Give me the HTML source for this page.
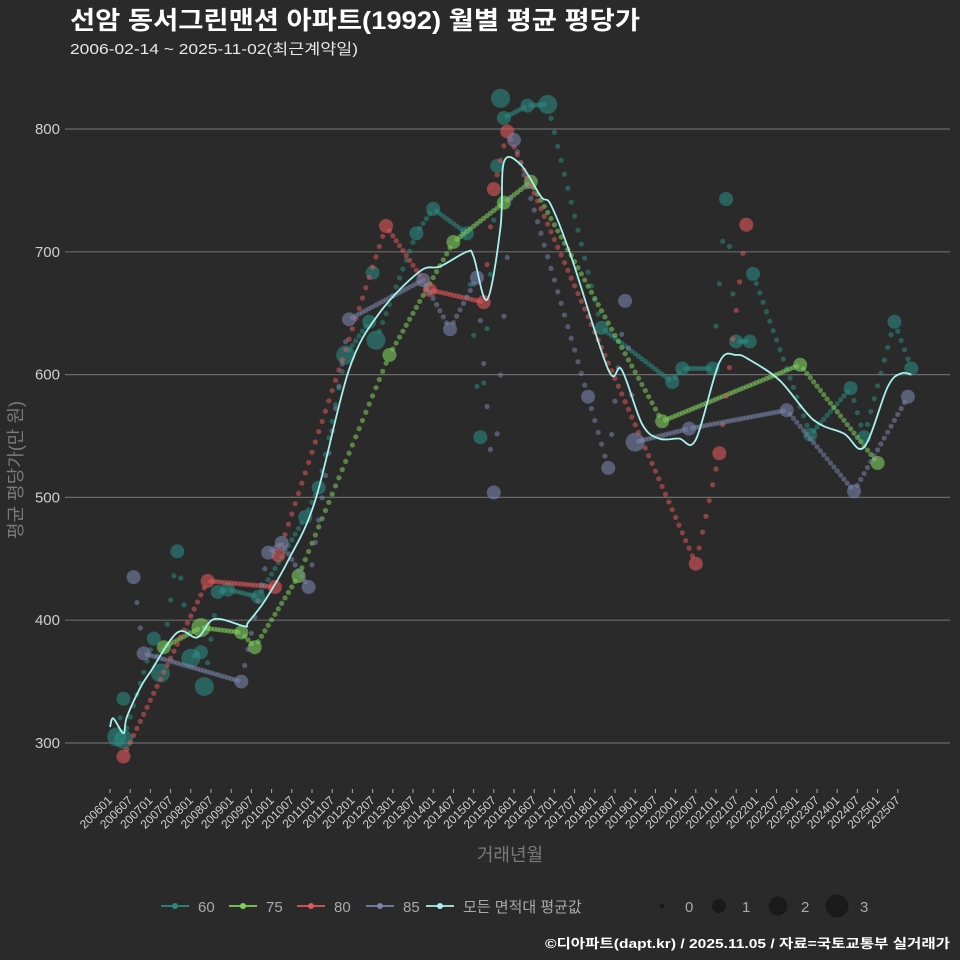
<!DOCTYPE html>
<html><head><meta charset="utf-8">
<style>
html,body{margin:0;padding:0;background:#2b2a2b;}
svg{display:block;font-family:"Liberation Sans","Noto Sans CJK KR",sans-serif;}
</style></head>
<body>
<svg id="c" width="960" height="960" viewBox="0 0 960 960" xmlns="http://www.w3.org/2000/svg">
<rect width="960" height="960" fill="#2b2a2b"/>
<text x="70" y="29" fill="#ffffff" font-size="25" font-weight="bold" textLength="570" lengthAdjust="spacingAndGlyphs">선암 동서그린맨션 아파트(1992) 월별 평균 평당가</text>
<text x="70" y="54" fill="#e8e8e8" font-size="15" textLength="288" lengthAdjust="spacingAndGlyphs">2006-02-14 ~ 2025-11-02(최근계약일)</text>
<g id="grid"></g>
<g id="yticks"></g>
<g id="xticks"></g>
<g id="marks"></g>
<text transform="translate(22,470) rotate(-90)" text-anchor="middle" fill="#7a7a7a" font-size="18">평균 평당가(만 원)</text>
<text x="510" y="861" text-anchor="middle" fill="#7a7a7a" font-size="18">거래년월</text>
<g id="legend"></g>
<text x="950" y="948" text-anchor="end" fill="#ffffff" font-size="13" font-weight="bold" textLength="405" lengthAdjust="spacingAndGlyphs">©디아파트(dapt.kr) / 2025.11.05 / 자료=국토교통부 실거래가</text>
</svg>
<script>
// ---- data (months since 2006-01) ----
const yTicks = [300, 400, 500, 600, 700, 800];
const xTickLabels = ["200601","200607","200701","200707","200801","200807","200901","200907","201001","201007","201101","201107","201201","201207","201301","201307","201401","201407","201501","201507","201601","201607","201701","201707","201801","201807","201901","201907","202001","202007","202101","202107","202201","202207","202301","202307","202401","202407","202501","202507"];
const seriesNames = ["60","75","80","85"];
const seriesColors = ["#2a8a80","#7fd05c","#e05858","#7884a8"];
const s60Months = [2,4,4,13,15,20,24,27,28,32,35,44,58,62,70,77,78,79,91,96,106,110,115,116,117,124,130,146,167,170,179,183,186,190,191,208,220,224,233,238];
const s60Values = [305,336,303,385,357,456,369,374,346,423,425,419,484,508,616,643,683,628,715,735,715,549,770,825,809,819,820,638,594,605,605,743,627,627,682,551,589,549,643,605];
const s60Sizes  = [2,1,2,1,2,1,2,1,2,1,1,1,1,1,2,1,1,2,1,1,1,1,1,2,1,1,2,1,1,1,1,1,1,1,1,1,1,1,1,1];
const s75Months = [16,27,39,43,56,83,102,117,125,164,205,228];
const s75Values = [378,394,390,378,436,616,708,740,757,562,608,528];
const s75Sizes  = [1,2,1,1,1,1,1,1,1,1,1,1];
const s80Months = [4,29,49,50,82,95,111,114,118,174,181,189];
const s80Values = [289,432,427,453,721,669,659,751,798,446,536,722];
const s80Sizes  = [1,1,1,1,1,1,1,1,1,1,1,1];
const s85Months = [7,10,39,47,51,59,71,93,101,109,114,120,142,148,153,156,172,201,221,237];
const s85Values = [435,373,350,455,463,427,645,677,637,679,504,791,582,524,660,545,556,571,505,582];
const s85Sizes  = [1,1,1,1,1,1,1,1,1,1,1,1,1,1,1,2,1,1,1,1];
const avgMonths = [0,1,4,5,9,12,20,26,31,40,41,46,53,61,71,80,92,98,106,108,112,116,117,122,128,131,137,148,152,158,163,169,174,181,186,190,199,209,218,224,231,235,238];
const avgValues = [313,320,308,321,345,358,390,386,401,395,398,416,449,498,604,650,684,688,700,696,661,720,773,771,745,738,696,604,604,560,548,548,547,610,616,612,595,563,552,541,590,601,600];

// ---- axes ----
const X0 = 110, XM = 20.2/6;
function xs(m){ return X0 + m*XM; }
function ys(v){ return 129 + (800 - v)*1.228; }
const NS = "http://www.w3.org/2000/svg";
function mk(tag, attrs, parent){ const e=document.createElementNS(NS,tag); for(const k in attrs) e.setAttribute(k,attrs[k]); parent.appendChild(e); return e; }
const grid=document.getElementById('grid'), yt=document.getElementById('yticks'), xt=document.getElementById('xticks'), marks=document.getElementById('marks'), lg=document.getElementById('legend');

yTicks.forEach(v=>{
  const l=mk('line',{x1:65,x2:950,y1:ys(v),y2:ys(v),stroke:'#6a6a6a','stroke-width':1.2},grid);
  
  
  const t=mk('text',{x:60,y:ys(v)+5,'text-anchor':'end',fill:'#cfcfcf','font-size':15},yt);
  t.textContent=v;
  
  
});
xTickLabels.forEach((lab,i)=>{
  const x=xs(i*6);
  const tk=mk('line',{x1:x,x2:x,y1:789,y2:793,stroke:'#aaaaaa','stroke-width':1},xt);
  
  
  const t=mk('text',{x:x+3,y:801,'text-anchor':'end',fill:'#d0d0d0','font-size':12,transform:`rotate(-45 ${x+3} 801)`},xt);
  t.textContent=lab;
  
  
});

const sizeR=[2.5,7,9.5,11.5];
const allSeries=[[s60Months,s60Values,s60Sizes],[s75Months,s75Values,s75Sizes],[s80Months,s80Values,s80Sizes],[s85Months,s85Values,s85Sizes]];
allSeries.forEach((s,si)=>{
  const [ms,vs,ss]=s, col=seriesColors[si];
  const g=mk('g',{},marks);
  
  
  for(let i=0;i<ms.length-1;i++){
    const m0=ms[i],m1=ms[i+1],v0=vs[i],v1=vs[i+1];
    for(let m=m0+1;m<m1;m++){
      const v=v0+(v1-v0)*(m-m0)/(m1-m0);
      const d=mk('circle',{cx:xs(m),cy:ys(v),r:2.6,fill:col,'fill-opacity':0.55},g);
      
      
    }
  }
  ms.forEach((m,i)=>{
    const c=mk('circle',{cx:xs(m),cy:ys(vs[i]),r:sizeR[ss[i]],fill:col,'fill-opacity':0.6},g);
    
    
  });
});
// average line (smoothed Catmull-Rom through data points)
const P=avgMonths.map((m,i)=>[xs(m),ys(avgValues[i])]);
let d='M'+P[0][0].toFixed(1)+' '+P[0][1].toFixed(1);
for(let i=0;i<P.length-1;i++){
  const p0=P[Math.max(0,i-1)],p1=P[i],p2=P[i+1],p3=P[Math.min(P.length-1,i+2)];
  const c1=[p1[0]+(p2[0]-p0[0])/6,p1[1]+(p2[1]-p0[1])/6];
  const c2=[p2[0]-(p3[0]-p1[0])/6,p2[1]-(p3[1]-p1[1])/6];
  d+='C'+c1[0].toFixed(1)+' '+c1[1].toFixed(1)+' '+c2[0].toFixed(1)+' '+c2[1].toFixed(1)+' '+p2[0].toFixed(1)+' '+p2[1].toFixed(1);
}
const av=mk('path',{d:d,fill:'none',stroke:'#a8f2ec','stroke-width':1.8,'stroke-linejoin':'round'},marks);



// legend
const legX=[175,243,311,380,440], legLab=["60","75","80","85","모든 면적대 평균값"];
legX.forEach((x,i)=>{
  const col=i<4?seriesColors[i]:'#a8f2ec';
  const g=mk('g',{},lg);
  
  
  mk('line',{x1:x-14,x2:x+14,y1:906,y2:906,stroke:col,'stroke-width':1.8},g);
  mk('circle',{cx:x,cy:906,r:3,fill:col},g);
  const t=mk('text',{x:x+23,y:912,fill:'#aaaaaa','font-size':15},g);
  t.textContent=legLab[i];
});
const szX=[662,719,778,837];
szX.forEach((x,i)=>{
  const g=mk('g',{},lg);
  
  
  mk('circle',{cx:x,cy:906,r:sizeR[i],fill:'#1a1a1a'},g);
  const t=mk('text',{x:x+23,y:912,fill:'#aaaaaa','font-size':15},g);
  t.textContent=i;
});
</script>
</body></html>
